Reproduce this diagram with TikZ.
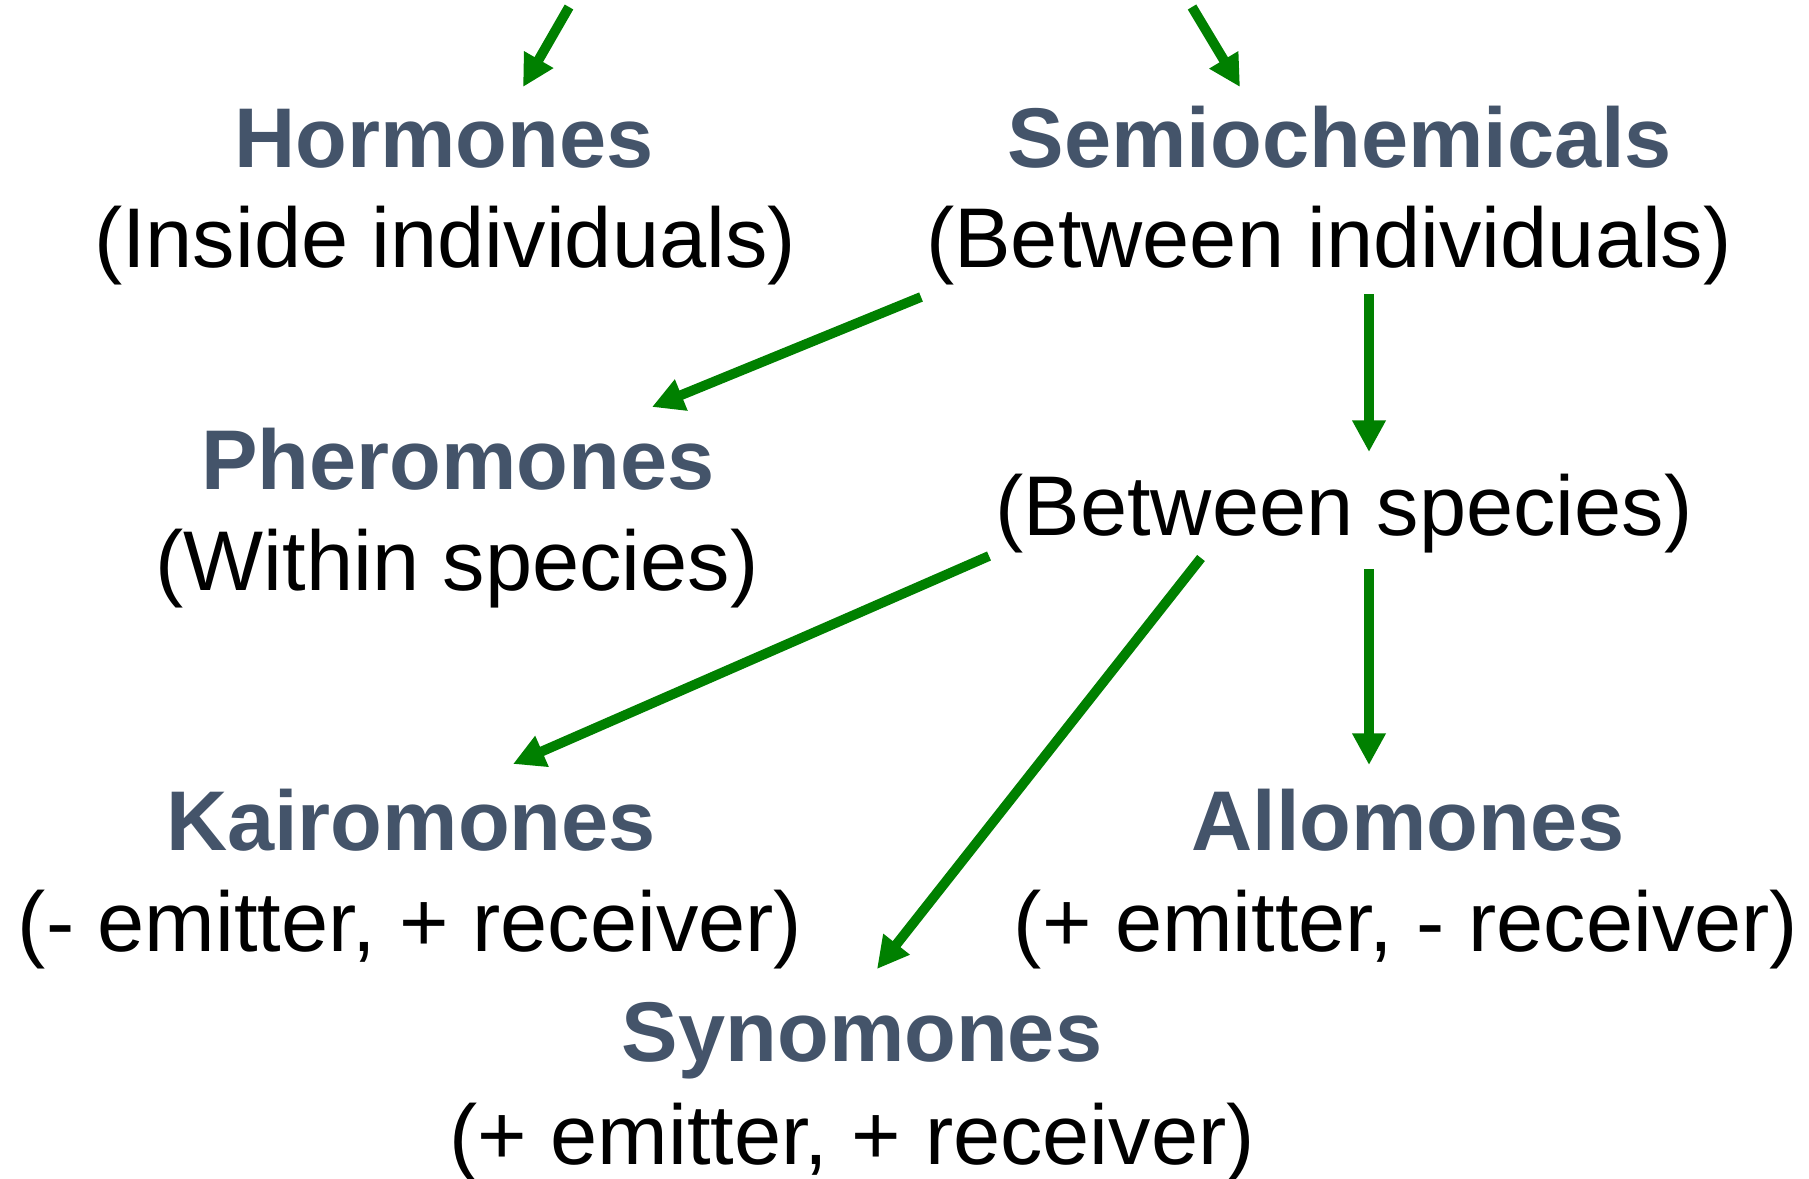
\documentclass[tikz,border=0pt]{standalone}
\usepackage{fontspec}
\setmainfont{Liberation Sans}
\usepackage{tikz}
\usetikzlibrary{arrows.meta}
\usetikzlibrary{calc}

\definecolor{slate}{HTML}{44546A}
\definecolor{arrowgreen}{HTML}{008000}

\begin{document}
\begin{tikzpicture}[x=0.01cm,y=-0.01cm,
  label node/.style={inner sep=0pt,anchor=base,font=\fontsize{24.1}{28}\selectfont},
  title node/.style={label node,font=\fontsize{24.1}{28}\selectfont\bfseries,text=slate},
  arrow line/.style={-{Triangle[length=9pt,width=9pt]},draw=arrowgreen,fill=arrowgreen,line width=2.8pt}]

	      \useasboundingbox (0,0) rectangle (1809,1179);

	      \coordinate (srcl) at (569,7);
	      \coordinate (srcr) at (1192,7);

	      \node[title node] at (444,168) (horm) {Hormones};
	      \node[label node] at (445,268) (hormsub) {(Inside individuals)};
	      \node[title node] at (1340,168) (semi) {Semiochemicals};
	      \node[label node] at (1329,268) (semisub) {(Between individuals)};
	      \node[title node] at (458,489) (phero) {Pheromones};
	      \node[label node] at (457,590) (pherosub) {(Within species)};
	      \node[label node] at (1344,535) (betw) {(Between species)};
	      \node[title node] at (411,850) (kairo) {Kairomones};
	      \node[label node] at (410,951) (kairosub) {(- emitter, + receiver)};
	      \node[title node] at (1408,850) (allo) {Allomones};
	      \node[label node] at (1406,951) (allosub) {(+ emitter, - receiver)};
	      \node[title node] at (862,1061) (syno) {Synomones};
	      \node[label node] at (852,1164) (synosub) {(+ emitter, + receiver)};

	      \path
	      (srcl) edge[arrow line] ($(horm.base)+(79,-81)$)
	      (srcr) edge[arrow line] ($(semi.base)+(-100,-81)$)
	      ($(semisub.base)+(-408,29)$) edge[arrow line] ($(phero.base)+(194,-82)$)
	      ($(semisub.base)+(40,26)$) edge[arrow line] ($(betw.base)+(25,-83)$)
	      ($(betw.base)+(-355,21)$) edge[arrow line] ($(kairo.base)+(102,-86)$)
	      ($(betw.base)+(-143,23)$) edge[arrow line] ($(syno.base)+(15,-92)$)
	      ($(betw.base)+(25,34)$) edge[arrow line] ($(allo.base)+(-39,-85)$)
	      ;

	    \end{tikzpicture}
\end{document}
